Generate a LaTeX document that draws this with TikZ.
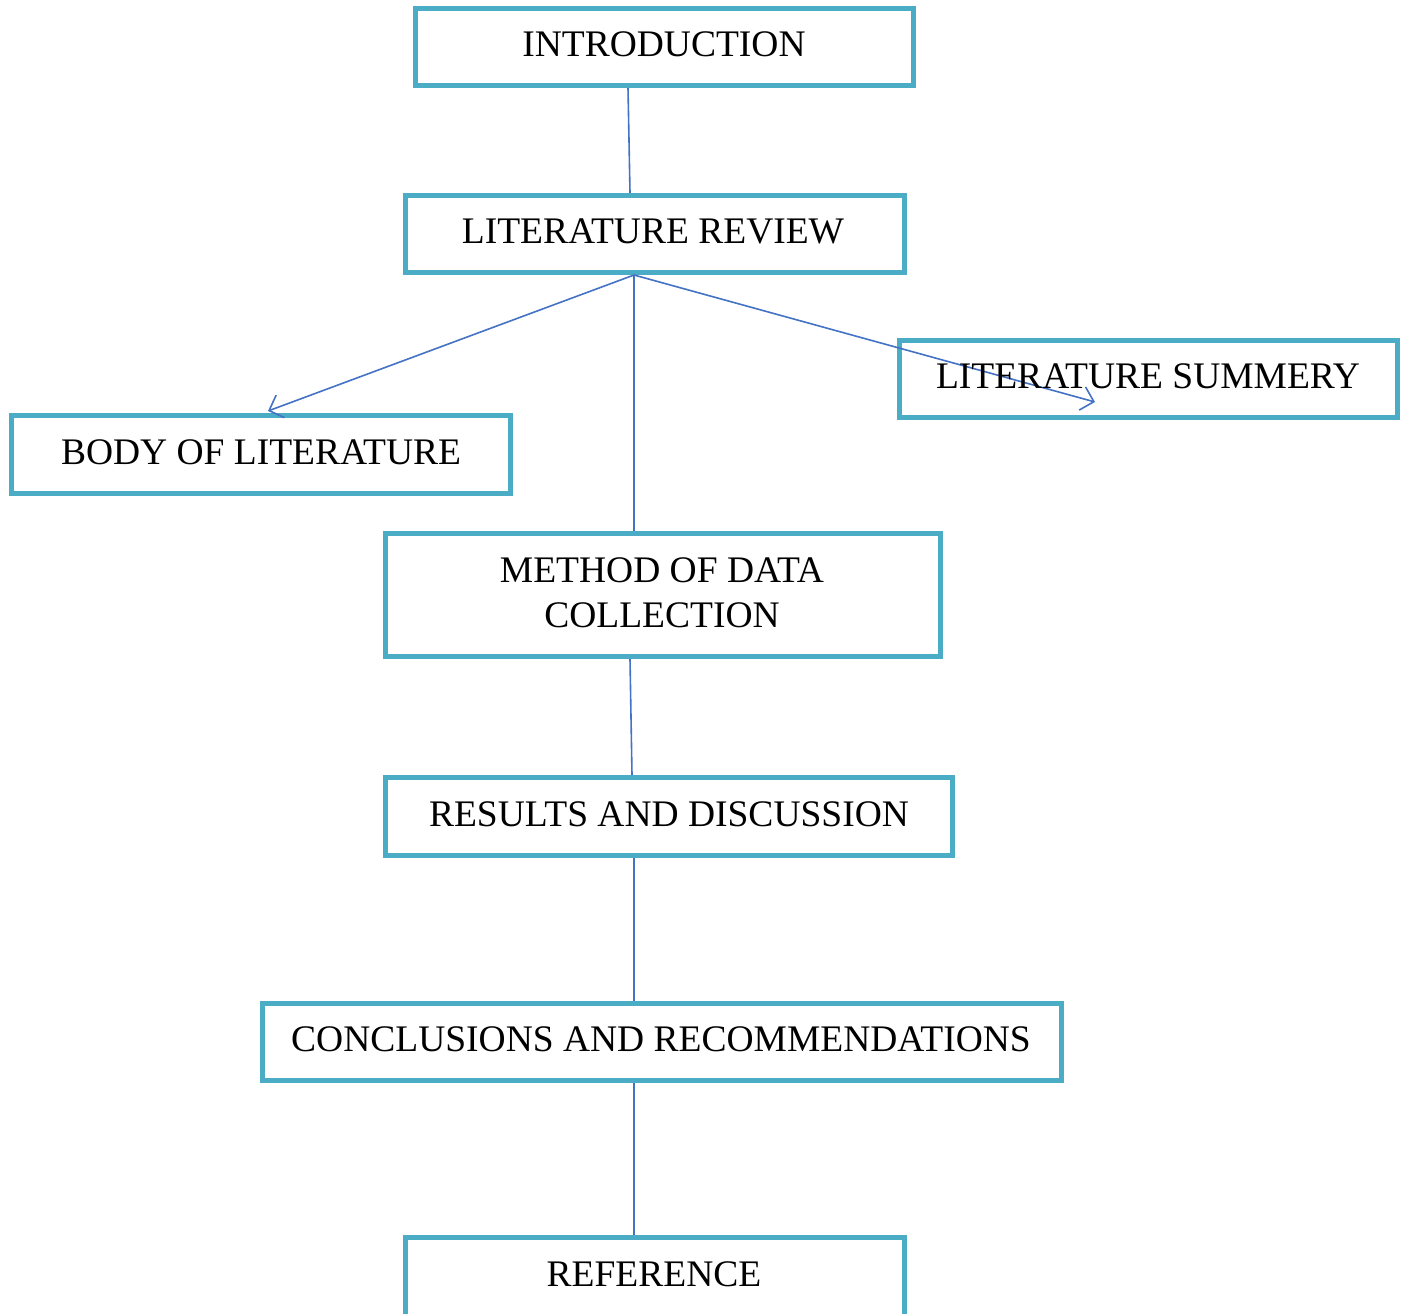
\documentclass[tikz,border=0pt]{standalone}
\usepackage{fontspec}
\setmainfont{Liberation Serif}
\usetikzlibrary{calc,arrows.meta}
\definecolor{boxc}{RGB}{75,172,198}
\definecolor{linec}{RGB}{68,114,196}
\tikzset{
  box/.style={draw=boxc, line width=5pt, inner sep=0pt, fill=white},
  lbl/.style={anchor=base, inner sep=0pt, font=\fontsize{37.5}{45}\selectfont},
  conn/.style={draw=linec, line width=1.6pt},
  arr/.style={conn, -{Straight Barb[length=12pt,width=24pt,line width=1.6pt]}}
}
\begin{document}
\begin{tikzpicture}[x=1pt,y=-1pt]
\useasboundingbox (0,0) rectangle (1408,1314);
\fill[white] (0,0) rectangle (1408,1314);
% boxes
\node[box, minimum width=498pt, minimum height=77pt] (intro) at (664.5,47) {};
\node[box, minimum width=499pt, minimum height=77pt] (lr) at (654.5,234) {};
\node[box, minimum width=498pt, minimum height=77pt] (ls) at (1148.5,379) {};
\node[box, minimum width=499pt, minimum height=78pt] (bl) at (260.5,454.5) {};
\node[box, minimum width=555pt, minimum height=123pt] (mdc) at (663,595) {};
\node[box, minimum width=567pt, minimum height=78pt] (rd) at (669,816.5) {};
\node[box, minimum width=799pt, minimum height=77pt] (cr) at (662,1042) {};
\node[box, minimum width=499pt, minimum height=80pt] (ref) at (654.5,1277) {};
% connectors
\draw[conn] ($(intro.south)+(-36.5,0)$) -- ($(lr.north)+(-24.5,0)$);
\coordinate (lrb) at ($(lr.south)+(-20.5,0)$);
\draw[arr] (lrb) -- ($(bl.north)+(7.5,-2)$);
\draw[arr] (lrb) -- ($(ls.south)+(-53.5,-18)$);
\draw[conn] (lrb) -- (lrb |- mdc.north);
\draw[conn] ($(mdc.south)+(-33,0)$) -- ($(rd.north)+(-37,0)$);
\draw[conn] ($(rd.south)+(-35,0)$) -- ($(cr.north)+(-28,0)$);
\draw[conn] ($(cr.south)+(-28,0)$) -- ($(ref.north)+(-20.5,0)$);
% labels
\node[lbl] (t1) at (664,57) {INTRODUCTION};
\node[lbl] (t2) at (653,243) {LITERATURE REVIEW};
\node[lbl] (t3) at (1148,388) {LITERATURE SUMMERY};
\node[lbl] (t4) at (261,464) {BODY OF LITERATURE};
\node[lbl] (t5) at (662,582) {METHOD OF DATA};
\node[lbl] (t6) at (662,627) {COLLECTION};
\node[lbl] (t7) at (669,826) {RESULTS AND DISCUSSION};
\node[lbl] (t8) at (661,1051) {CONCLUSIONS AND RECOMMENDATIONS};
\node[lbl] (t9) at (654,1286) {REFERENCE};
\end{tikzpicture}
\end{document}
